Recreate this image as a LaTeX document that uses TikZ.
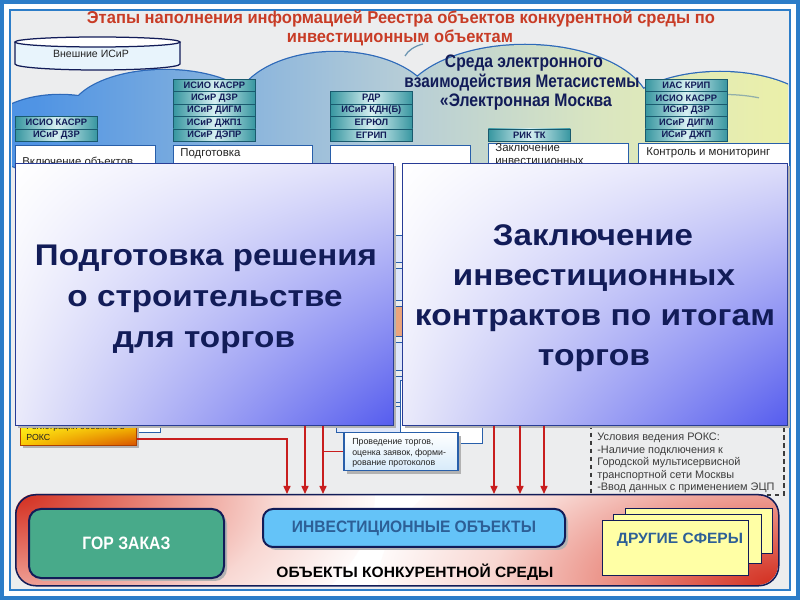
\documentclass[tikz,border=0pt]{standalone}
\usepackage{fontspec}
\setmainfont{Liberation Sans}
\usepackage{graphicx}
\usetikzlibrary{arrows.meta,calc,shadings}
\newlength\pxu
\setlength\pxu{0.2mm}
\newcommand\W[2]{\resizebox{#1\pxu}{\height}{#2}}
\definecolor{frameblue}{RGB}{45,125,200}
\definecolor{bgfill}{RGB}{236,237,238}
\definecolor{titlered}{RGB}{200,60,38}
\definecolor{navy}{RGB}{18,28,88}
\definecolor{cloudL}{RGB}{52,132,230}
\definecolor{cloudL2}{RGB}{80,148,228}
\definecolor{cloudM}{RGB}{182,205,215}
\definecolor{cloudY1}{RGB}{218,230,192}
\definecolor{cloudR}{RGB}{246,246,155}
\definecolor{cloudline}{RGB}{45,105,185}
\definecolor{tealD}{RGB}{55,150,160}
\definecolor{tealL}{RGB}{215,240,242}
\definecolor{tealB}{RGB}{25,90,110}
\definecolor{boxline}{RGB}{40,95,170}
\definecolor{bigUR}{RGB}{222,222,250}
\definecolor{bigLL}{RGB}{234,234,250}
\definecolor{bigLR}{RGB}{85,92,238}
\definecolor{bigline}{RGB}{40,60,150}
\definecolor{arrred}{RGB}{200,30,30}
\definecolor{pRed}{RGB}{210,45,30}
\definecolor{pRedM}{RGB}{232,130,118}
\definecolor{pRedL}{RGB}{248,215,210}
\definecolor{gzgreen}{RGB}{72,170,138}
\definecolor{invblue}{RGB}{100,195,248}
\definecolor{invtext}{RGB}{45,95,150}
\definecolor{docyel}{RGB}{255,255,165}
\definecolor{cyfill}{RGB}{232,244,252}
\definecolor{dgray}{RGB}{60,60,60}
\definecolor{txt}{RGB}{35,35,35}
\definecolor{gapbox}{RGB}{222,230,250}
\definecolor{gaporange}{RGB}{235,165,125}
\definecolor{yelA}{RGB}{255,255,40}
\definecolor{yelB}{RGB}{255,225,0}
\definecolor{yelC}{RGB}{250,200,0}
\definecolor{yelD}{RGB}{215,80,0}
\definecolor{provbot}{RGB}{215,235,250}
\pgfdeclareradialshading{cornersh}{\pgfpoint{0bp}{0bp}}{color(0bp)=(pRed); color(9bp)=(pRedM); color(18bp)=(pRedL); color(26bp)=(white); color(50bp)=(white)}
\pgfdeclarehorizontalshading{cloudsh}{100bp}{color(0bp)=(cloudL); color(28bp)=(cloudL2); color(50bp)=(cloudM); color(62bp)=(cloudY1); color(80bp)=(cloudR); color(100bp)=(cloudR)}
\begin{document}
\begin{tikzpicture}[x=0.2mm,y=-0.2mm,
  lbl/.style={anchor=north west, minimum width=16.4mm, minimum height=2.48mm, inner sep=0,
    draw=tealB, line width=0.15mm, left color=tealD, right color=tealD, middle color=tealL,
    text=navy, font=\fontsize{5.3pt}{6pt}\selectfont\bfseries},
  wbox/.style={anchor=north west, inner sep=0, fill=white, draw=boxline, line width=0.2mm},
  wtxt/.style={anchor=base west, inner sep=0, text=txt, font=\fontsize{6.5pt}{8pt}\selectfont},
  gbox/.style={anchor=north west, inner sep=0, fill=gapbox, draw=boxline, line width=0.15mm, minimum width=26mm},
  bigbox/.style={anchor=north west, inner sep=0, draw=bigline, line width=0.2mm,
    upper left=white, upper right=bigUR, lower left=bigLL, lower right=bigLR},
  bigtxt/.style={anchor=base, inner sep=0, text=navy, font=\fontsize{17pt}{20pt}\selectfont\bfseries},
  ttl/.style={anchor=base, inner sep=0, text=titlered, font=\fontsize{9.8pt}{11pt}\selectfont\bfseries},
  cldtxt/.style={anchor=base, inner sep=0, text=navy, font=\fontsize{10.3pt}{12pt}\selectfont\bfseries},
  smalltxt/.style={anchor=base west, inner sep=0, text=txt, font=\fontsize{5pt}{6pt}\selectfont},
  condtxt/.style={anchor=base west, inner sep=0, text=dgray, font=\fontsize{6.2pt}{7pt}\selectfont},
  redarr/.style={draw=arrred, line width=0.3mm, -{Triangle[length=1.6mm,width=1.4mm]}},
  shadowfill/.style={fill=black!30},
  docbox/.style={anchor=north west, inner sep=0, fill=docyel, draw=navy, line width=0.25mm}
]
\useasboundingbox (0,0) rectangle (800,600);
% frame and background
\fill[frameblue] (0,0) rectangle (800,600);
\fill[white] (4,4) rectangle (796,596);
\fill[bgfill] (10,10) rectangle (790,590);
\draw[frameblue, line width=0.4mm] (10,10) rectangle (790,590);

% title
\node[ttl] (t1) at (401,24) {\W{628}{Этапы наполнения информацией Реестра объектов конкурентной среды по}};
\node[ttl] (t2) at (400,43) {\W{226}{инвестиционным объектам}};

% cloud
\begin{scope}
\clip (12,12) rectangle (788,588);
\draw[cloudline, line width=0.5mm]
  (60,135) ellipse [x radius=75, y radius=40]
  (165,115) ellipse [x radius=95, y radius=45]
  (335,110) ellipse [x radius=100, y radius=58]
  (525,110) ellipse [x radius=125, y radius=65]
  (720,120) ellipse [x radius=100, y radius=48]
  (400,150) ellipse [x radius=400, y radius=25];
\shade[shading=cloudsh]
  (60,135) ellipse [x radius=75, y radius=40]
  (165,115) ellipse [x radius=95, y radius=45]
  (335,110) ellipse [x radius=100, y radius=58]
  (525,110) ellipse [x radius=125, y radius=65]
  (720,120) ellipse [x radius=100, y radius=48]
  (400,150) ellipse [x radius=400, y radius=25];
\draw[cloudline!70!cloudR, line width=0.25mm] (405,56) arc[start angle=200, end angle=250, x radius=30, y radius=20];
\draw[cloudline!50!cloudR, line width=0.25mm] (700,96) arc[start angle=250, end angle=300, x radius=70, y radius=25];
\end{scope}

% cylinder
\filldraw[fill=cyfill, draw=navy, line width=0.25mm]
  (15,42) -- (15,64) arc[start angle=180, end angle=0, x radius=82.5, y radius=6] -- (180,42);
\filldraw[fill=white, draw=navy, line width=0.25mm] (97.5,42) ellipse [x radius=82.5, y radius=5];
\node[anchor=base, inner sep=0, text=txt, font=\fontsize{6pt}{7pt}\selectfont] (cyl) at (91,58) {Внешние ИСиР};

% cloud text
\node[cldtxt] (c1) at (524,68) {\W{158}{Среда электронного}};
\node[cldtxt] (c2) at (522,88) {\W{235}{взаимодействия Метасистемы}};
\node[cldtxt] (c3) at (526,107) {\W{172}{«Электронная Москва}};

% label stacks
\foreach \t [count=\i] in {ИСИО КАСРР, ИСиР ДЗР}
  \node[lbl] (a\i) at (15,{116.2+12.4*(\i-1)}) {\t};
\foreach \t [count=\i] in {ИСИО КАСРР, ИСиР ДЗР, ИСиР ДИГМ, ИСиР ДЖП1, ИСиР ДЭПР}
  \node[lbl] (b\i) at (173,{79+12.4*(\i-1)}) {\t};
\foreach \t [count=\i] in {РДР, ИСиР КДН(Б), ЕГРЮЛ, ЕГРИП}
  \node[lbl] (c\i) at (330,{91.4+12.4*(\i-1)}) {\t};
\node[lbl] (d1) at (488,128.6) {РИК ТК};
\foreach \t [count=\i] in {ИАС КРИП, ИСИО КАСРР, ИСиР ДЗР, ИСиР ДИГМ, ИСиР ДЖП}
  \node[lbl] (e\i) at (645,{79+12.4*(\i-1)}) {\t};

% white boxes (mostly hidden)
\node[wbox, minimum width=28mm, minimum height=18mm] (w1) at (15,145) {};
\node[wbox, minimum width=27.8mm, minimum height=18mm] (w2) at (173,145) {};
\node[wbox, minimum width=28mm, minimum height=18mm] (w3) at (330,145) {};
\node[wbox, minimum width=28mm, minimum height=18mm] (w4) at (488,143) {};
\node[wbox, minimum width=30.2mm, minimum height=18mm] (w5) at (638,143) {};
\node[wtxt] (tw1) at (22,166) {Включение объектов};
\node[wtxt] (tw2) at (180,157) {Подготовка};
\node[wtxt] (tw4a) at (495,152) {Заключение};
\node[wtxt] (tw4b) at (495,165) {инвестиционных};
\node[wtxt] (tw5) at (646,156) {Контроль и мониторинг};

% boxes visible only in the gap
\node[gbox, minimum height=5.4mm] (g1) at (336,235) {};
\node[gbox, minimum height=6.4mm] (g2) at (336,268) {};
\node[gbox, minimum height=6mm, fill=gaporange] (g3) at (336,306) {};
\node[gbox, minimum height=5.6mm] (g4) at (336,342) {};
\node[gbox, minimum height=5.2mm] (g5) at (336,376) {};
\node[gbox, minimum height=5.2mm] (g6) at (336,406) {};
\node[wbox, minimum width=16.4mm, minimum height=12.6mm] (bb) at (400,380) {};

% lower-left hidden boxes
\node[wbox, minimum width=28mm, minimum height=10.4mm] (lb) at (20,380) {};
\fill[shadowfill] (23,421) rectangle (139,448);
\node[anchor=north west, inner sep=0, minimum width=23.2mm, minimum height=5.4mm, draw=yelD!80!black, line width=0.2mm,
  upper left=yelA, upper right=yelB, lower left=yelC, lower right=yelD] (yb) at (20,418) {};
\node[smalltxt] (yt1) at (26,430) {Регистрация объектов в};
\node[smalltxt] (yt2) at (26,441) {РОКС};

% dashed conditions frame
\node[anchor=north west, inner sep=0, minimum width=38.6mm, minimum height=38.8mm, draw=dgray,
  line width=0.3mm, dash pattern=on 0.9mm off 0.7mm] (cond) at (590,300) {};

% big overlay boxes
\fill[shadowfill] (18,166) rectangle (396,428);
\fill[shadowfill] (405,166) rectangle (790,428);
\node[bigbox, minimum width=75.6mm, minimum height=52.4mm] (bigL) at (15,163) {};
\node[bigbox, minimum width=77mm, minimum height=52.4mm] (bigR) at (402,163) {};
\node[bigtxt] (l1) at (206,266) {\W{342}{Подготовка решения}};
\node[bigtxt] (l2) at (205,307) {\W{275}{о строительстве}};
\node[bigtxt] (l3) at (204,348) {\W{182}{для торгов}};
\node[bigtxt] (r1) at (593,246) {\W{200}{Заключение}};
\node[bigtxt] (r2) at (594,286) {\W{282}{инвестиционных}};
\node[bigtxt] (r3) at (595,326) {\W{360}{контрактов по итогам}};
\node[bigtxt] (r4) at (594,366) {\W{112}{торгов}};

% conditions text
\foreach \t [count=\i] in {Условия ведения РОКС:, -Наличие подключения к, Городской мультисервисной, транспортной сети Москвы, -Ввод данных с применением ЭЦП}
  \node[condtxt] (cl\i) at (597,{441+12.5*(\i-1)}) {\t};

% Проведение торгов box
\fill[shadowfill] (347,436) rectangle (461,474);
\node[anchor=north west, inner sep=0, minimum width=22.8mm, minimum height=7.6mm, top color=white, bottom color=provbot,
  draw=boxline, line width=0.3mm] (prov) at (343,432) {};
\foreach \t [count=\i] in {{Проведение торгов,}, {оценка заявок, форми-}, {рование протоколов}}
  \node[smalltxt] (pv\i) at (352,{445+10.5*(\i-1)}) {\t};

% red arrows
\coordinate (ra1) at (287,494);
\coordinate (ra2) at (305,494);
\coordinate (ra3) at (323,494);
\coordinate (ra4) at (494,494);
\coordinate (ra5) at (520,494);
\coordinate (ra6) at (544,494);
\draw[redarr] ($(yb.south east)+(0,-7)$) -| (ra1);
\draw[redarr] (bigL.south -| ra2) -- (ra2);
\draw[redarr] (bigL.south -| ra3) -- (ra3);
\draw[draw=arrred, line width=0.3mm] (prov.west) -- (prov.west -| ra3);
\draw[redarr] (bigR.south -| ra4) -- (ra4);
\draw[redarr] (bigR.south -| ra5) -- (ra5);
\draw[redarr] (bigR.south -| ra6) -- (ra6);

% bottom panel
\begin{scope}
\clip[rounded corners=4mm] (15,494) rectangle (778,585);
\fill[white] (15,494) rectangle (778,585);
\shade[shading=cornersh] (15,494) ellipse [x radius=360, y radius=190];
\shade[shading=cornersh] (778,585) ellipse [x radius=400, y radius=190];
\end{scope}
\node[anchor=north west, inner sep=0, minimum width=152.6mm, minimum height=18.2mm, rounded corners=4mm,
  draw=navy, line width=0.3mm] (panel) at (15,494) {};

% ГОР ЗАКАЗ
\fill[shadowfill, rounded corners=2.4mm] (32,512) rectangle (227,581);
\node[anchor=north west, inner sep=0, minimum width=39mm, minimum height=13.8mm, rounded corners=2.4mm,
  fill=gzgreen, draw=navy, line width=0.4mm, text=white, font=\fontsize{10.2pt}{12pt}\selectfont\bfseries] (gz) at (28,508) {\W{88}{ГОР ЗАКАЗ}};

% ИНВЕСТИЦИОННЫЕ ОБЪЕКТЫ
\fill[shadowfill, rounded corners=2mm] (266,512) rectangle (568,550);
\node[anchor=north west, inner sep=0, minimum width=60.4mm, minimum height=7.6mm, rounded corners=2mm,
  fill=invblue, draw=navy, line width=0.4mm, text=invtext, font=\fontsize{9.4pt}{11pt}\selectfont\bfseries] (inv) at (262,508) {\W{244}{ИНВЕСТИЦИОННЫЕ ОБЪЕКТЫ}};

% ДРУГИЕ СФЕРЫ stack
\node[docbox, minimum width=29.4mm, minimum height=9mm] (ds3) at (625,508) {};
\node[docbox, minimum width=29.6mm, minimum height=9.8mm] (ds2) at (613,514) {};
\node[docbox, minimum width=29.2mm, minimum height=11mm] (ds1) at (602,520) {};
\node[anchor=center, inner sep=0, text=invtext, font=\fontsize{8.5pt}{10pt}\selectfont\bfseries] (dst) at (680,540) {\W{126}{ДРУГИЕ СФЕРЫ}};

% panel caption
\node[anchor=center, inner sep=0, text=black, font=\fontsize{8.5pt}{10pt}\selectfont\bfseries] (pcap) at (415,572) {\W{277}{ОБЪЕКТЫ КОНКУРЕНТНОЙ СРЕДЫ}};
\end{tikzpicture}
\end{document}
